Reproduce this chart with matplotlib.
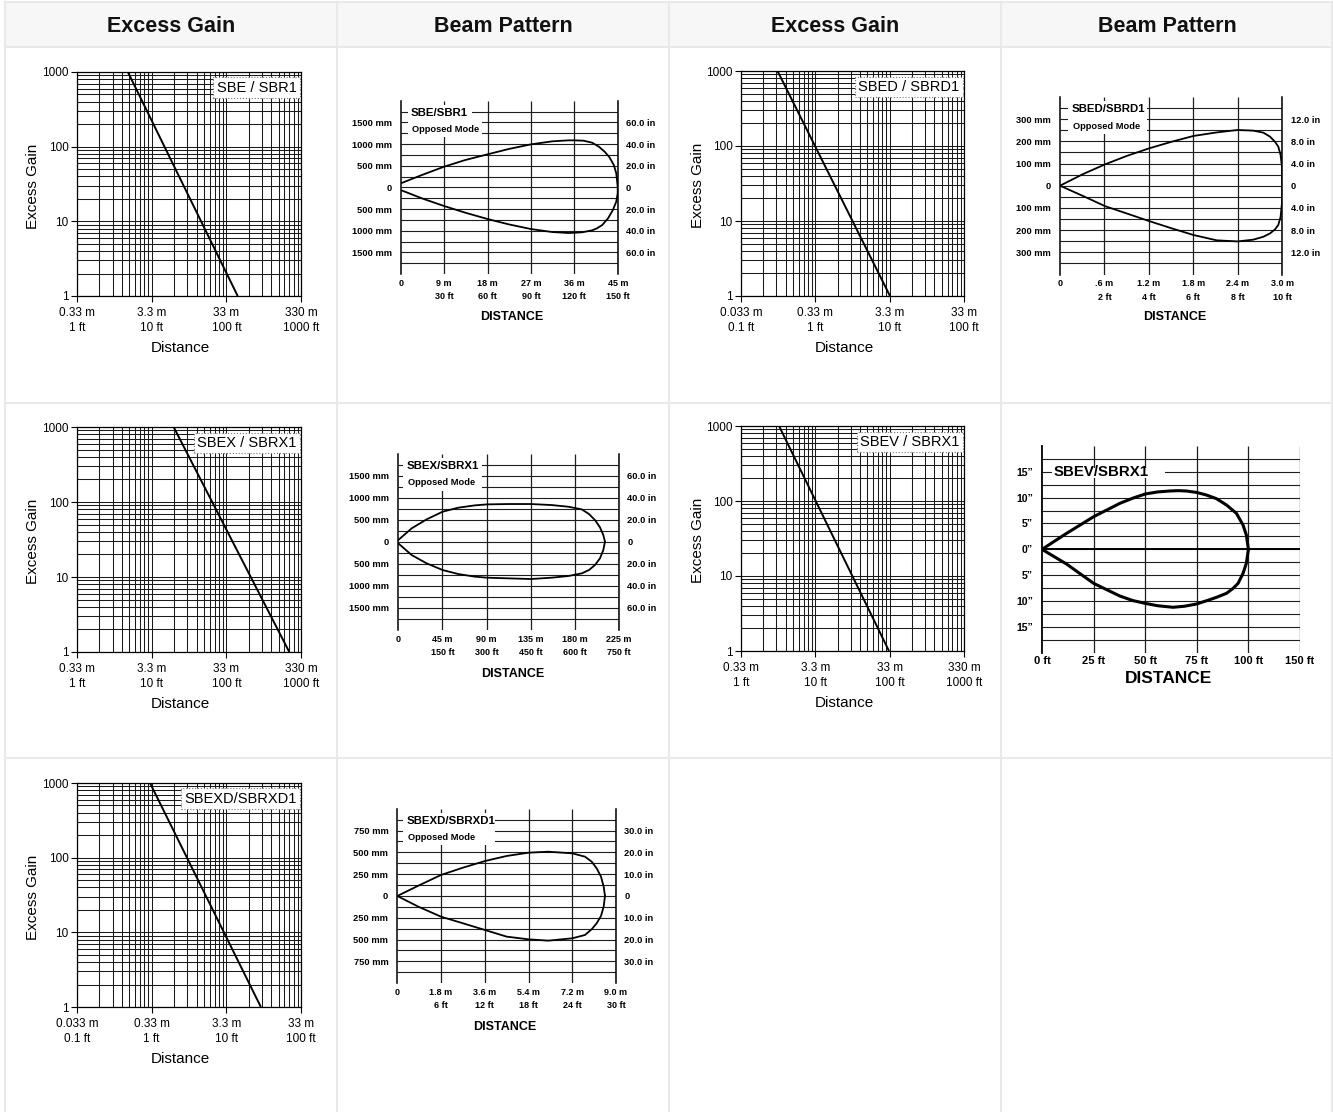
import numpy as np
import matplotlib
matplotlib.use('Agg')
import matplotlib.pyplot as plt
from matplotlib.patches import Rectangle
from matplotlib.lines import Line2D
from matplotlib.ticker import LogLocator, NullFormatter

# ---------------- data ----------------
headers = ['Excess Gain', 'Beam Pattern', 'Excess Gain', 'Beam Pattern']

# Excess gain lines (distance in ft, excess gain)
eg_sbe_dist = [4.8, 142]
eg_sbe_gain = [1000, 1]
eg_sbed_dist = [0.31, 10.1]
eg_sbed_gain = [1000, 1]
eg_sbex_dist = [19.7, 697]
eg_sbex_gain = [1000, 1]
eg_sbev_dist = [3.25, 98]
eg_sbev_gain = [1000, 1]
eg_sbexd_dist = [0.95, 29]
eg_sbexd_gain = [1000, 1]

eg_ticks_long = [1, 10, 100, 1000]
eg_labels_long = ['0.33 m\n1 ft', '3.3 m\n10 ft', '33 m\n100 ft', '330 m\n1000 ft']
eg_ticks_short = [0.1, 1, 10, 100]
eg_labels_short = ['0.033 m\n0.1 ft', '0.33 m\n1 ft', '3.3 m\n10 ft', '33 m\n100 ft']
gain_ticks = [1, 10, 100, 1000]
gain_labels = ['1', '10', '100', '1000']

# Beam pattern SBE/SBR1 (m, mm)
bp_sbe_up_x = [0, 4.4, 9, 13.4, 18, 22.4, 27, 31.4, 34.8, 36, 37.9, 39.7, 41.1, 42.3, 43.3, 44.2, 44.7, 45]
bp_sbe_up_y = [92, 285, 477, 631, 762, 885, 992, 1062, 1085, 1085, 1077, 1031, 938, 823, 692, 515, 323, 15]
bp_sbe_lo_x = [45, 45, 44.7, 44.0, 43.0, 41.8, 40.7, 39.7, 37.6, 34.8, 31.4, 27, 22.4, 18, 13.4, 9, 4.4, 0]
bp_sbe_lo_y = [15, -138, -331, -523, -715, -869, -946, -992, -1038, -1054, -1031, -962, -854, -731, -585, -431, -254, -62]
bp_sbe_xticks = [0, 9, 18, 27, 36, 45]
bp_sbe_xlabels = ['0', '9 m\n30 ft', '18 m\n60 ft', '27 m\n90 ft', '36 m\n120 ft', '45 m\n150 ft']
bp_sbe_yticks = [1500, 1000, 500, 0, -500, -1000, -1500]
bp_sbe_ylabels = ['1500 mm', '1000 mm', '500 mm', '0', '500 mm', '1000 mm', '1500 mm']
bp_sbe_rlabels = ['60.0 in', '40.0 in', '20.0 in', '0', '20.0 in', '40.0 in', '60.0 in']

# Beam pattern SBED/SBRD1 (m, mm)
bp_sbed_up_x = [0, 0.315, 0.607, 0.9, 1.2, 1.507, 1.8, 2.114, 2.397, 2.609, 2.744, 2.834, 2.901, 2.946, 2.977, 2.995, 3.0]
bp_sbed_up_y = [0, 53, 96, 134, 168, 198, 224, 240, 251, 248, 239, 221, 198, 176, 138, 86, 0]
bp_sbed_lo_x = [3.0, 2.995, 2.977, 2.946, 2.901, 2.834, 2.744, 2.609, 2.397, 2.114, 1.8, 1.507, 1.2, 0.9, 0.607, 0.315, 0]
bp_sbed_lo_y = [0, -80, -140, -177, -197, -215, -230, -243, -251, -246, -222, -192, -159, -125, -92, -47, 0]
bp_sbed_xticks = [0, 0.6, 1.2, 1.8, 2.4, 3.0]
bp_sbed_xlabels = ['0', '.6 m\n2 ft', '1.2 m\n4 ft', '1.8 m\n6 ft', '2.4 m\n8 ft', '3.0 m\n10 ft']
bp_sbed_yticks = [300, 200, 100, 0, -100, -200, -300]
bp_sbed_ylabels = ['300 mm', '200 mm', '100 mm', '0', '100 mm', '200 mm', '300 mm']
bp_sbed_rlabels = ['12.0 in', '8.0 in', '4.0 in', '0', '4.0 in', '8.0 in', '12.0 in']

# Beam pattern SBEX/SBRX1 (m, mm)
bp_sbex_up_x = [0, 13.6, 28.9, 45.2, 61.2, 78.2, 90.4, 112.2, 135.3, 156.3, 173.3, 187, 194.4, 200.5, 205.6, 209, 210.7]
bp_sbex_up_y = [38, 303, 508, 682, 773, 826, 848, 856, 856, 833, 795, 735, 629, 492, 326, 152, 0]
bp_sbex_lo_x = [210.7, 209, 205.6, 200.5, 194.4, 187, 173.3, 156.3, 135.3, 112.2, 90.4, 78.2, 61.2, 45.2, 28.9, 13.6, 0]
bp_sbex_lo_y = [0, -189, -379, -530, -644, -720, -780, -818, -848, -833, -818, -795, -735, -644, -492, -303, -38]
bp_sbex_xticks = [0, 45, 90, 135, 180, 225]
bp_sbex_xlabels = ['0', '45 m\n150 ft', '90 m\n300 ft', '135 m\n450 ft', '180 m\n600 ft', '225 m\n750 ft']
bp_sbex_yticks = bp_sbe_yticks
bp_sbex_ylabels = bp_sbe_ylabels
bp_sbex_rlabels = bp_sbe_rlabels

# Beam pattern SBEXD/SBRXD1 (m, mm)
bp_sbexd_up_x = [0, 0.864, 1.797, 2.703, 3.608, 4.5, 5.405, 6.215, 7.203, 7.724, 7.998, 8.204, 8.383, 8.492, 8.547]
bp_sbexd_up_y = [0, 118, 241, 325, 401, 459, 497, 508, 489, 451, 394, 317, 222, 107, 0]
bp_sbexd_lo_x = [8.547, 8.492, 8.383, 8.204, 7.998, 7.724, 7.203, 6.215, 5.405, 4.5, 3.608, 2.703, 1.797, 0.864, 0]
bp_sbexd_lo_y = [0, -122, -229, -313, -382, -447, -485, -512, -497, -466, -390, -313, -237, -122, 0]
bp_sbexd_xticks = [0, 1.8, 3.6, 5.4, 7.2, 9.0]
bp_sbexd_xlabels = ['0', '1.8 m\n6 ft', '3.6 m\n12 ft', '5.4 m\n18 ft', '7.2 m\n24 ft', '9.0 m\n30 ft']
bp_sbexd_yticks = [750, 500, 250, 0, -250, -500, -750]
bp_sbexd_ylabels = ['750 mm', '500 mm', '250 mm', '0', '250 mm', '500 mm', '750 mm']
bp_sbexd_rlabels = ['30.0 in', '20.0 in', '10.0 in', '0', '10.0 in', '20.0 in', '30.0 in']

# Beam pattern SBEV/SBRX1 (ft, inches)
bp_sbev_up_x = [0, 11.9, 25, 37.7, 44, 50, 56, 61.9, 66, 70, 75, 79.7, 84.5, 89.4, 94.2, 97.4, 99, 100]
bp_sbev_up_y = [0, 3.09, 6.31, 8.89, 9.9, 10.7, 11.1, 11.28, 11.35, 11.28, 11.0, 10.5, 9.8, 8.57, 6.96, 4.7, 2.77, 0]
bp_sbev_lo_x = [100, 99, 97.4, 95, 92.6, 89.4, 84.5, 80, 74.8, 69, 63.5, 56, 50, 44, 37.7, 25, 11.9, 0]
bp_sbev_lo_y = [0, -2.7, -4.64, -6.57, -7.54, -8.5, -9.28, -9.9, -10.57, -11.0, -11.2, -10.9, -10.44, -9.9, -9.02, -6.57, -2.84, 0]
bp_sbev_xticks = [0, 25, 50, 75, 100, 125]
bp_sbev_xlabels = ['0 ft', '25 ft', '50 ft', '75 ft', '100 ft', '150 ft']
bp_sbev_yticks = [15, 10, 5, 0, -5, -10, -15]
bp_sbev_ylabels = ['15\u201d', '10\u201d', '5\u201d', '0\u201d', '5\u201d', '10\u201d', '15\u201d']

# ---------------- figure ----------------
W, H = 1333, 1112
fig = plt.figure(figsize=(W / 100, H / 100), dpi=100)
fig.patch.set_facecolor('white')

SANS = ['Liberation Sans', 'DejaVu Sans']
NARROW = ['Liberation Sans', 'DejaVu Sans']


def fx(x):
    return x / W


def fy(y):
    return 1 - y / H


def ax_px(l, t, r, b):
    return fig.add_axes([l / W, 1 - b / H, (r - l) / W, (b - t) / H])


# table background and borders
fig.add_artist(Rectangle((fx(5), fy(47)), (1333 - 5) / W, (47 - 2) / H, transform=fig.transFigure,
                         facecolor='#f7f7f7', edgecolor='none', zorder=0))
border = '#e9e9e9'
for xb in [5, 337, 669, 1001, 1332]:
    fig.add_artist(Line2D([fx(xb), fx(xb)], [fy(2), fy(1112)], transform=fig.transFigure,
                          color=border, lw=1.5, zorder=0))
for yb in [2, 47, 403, 758]:
    fig.add_artist(Line2D([fx(5), fx(1333)], [fy(yb), fy(yb)], transform=fig.transFigure,
                          color=border, lw=1.5, zorder=0))
for i, h in enumerate(headers):
    cx = (5 + 332 * i + 5 + 332 * (i + 1)) / 2
    fig.text(fx(cx), fy(26.5), h, ha='center', va='center', fontsize=15.5,
             fontweight='bold', family=SANS, color='#111111')


def excess_gain(box, xmin, xticks, xlabels, dist, gain, name):
    ax = ax_px(*box)
    ax.set_xscale('log')
    ax.set_yscale('log')
    ax.set_xlim(xmin, xmin * 1000)
    ax.set_ylim(1, 1000)
    ax.xaxis.set_minor_locator(LogLocator(base=10, subs=np.arange(2, 10), numticks=12))
    ax.yaxis.set_minor_locator(LogLocator(base=10, subs=np.arange(2, 10), numticks=12))
    ax.xaxis.set_minor_formatter(NullFormatter())
    ax.yaxis.set_minor_formatter(NullFormatter())
    ax.set_xticks(xticks, xlabels)
    ax.set_yticks(gain_ticks, gain_labels)
    ax.grid(True, which='both', color='#1a1a1a', lw=0.75, zorder=1)
    ax.set_axisbelow(True)
    ax.plot(dist, gain, color='black', lw=1.4, zorder=4, solid_capstyle='butt')
    ax.tick_params(which='minor', length=0)
    ax.tick_params(which='major', length=4, width=0.8, color='black')
    ax.tick_params(axis='x', labelsize=8.5, pad=4)
    ax.tick_params(axis='y', labelsize=8.5, pad=2)
    for t in ax.get_xticklabels() + ax.get_yticklabels():
        t.set_family(SANS)
    for t in ax.get_xticklabels():
        t.set_linespacing(1.3)
    for s in ax.spines.values():
        s.set_color('black')
        s.set_linewidth(0.9)
    ax.set_xlabel('Distance', fontsize=11, family=SANS, va='center')
    ax.xaxis.set_label_coords(0.463, -0.232)
    ax.set_ylabel('Excess Gain', fontsize=11, family=SANS, va='center')
    ax.yaxis.set_label_coords(-0.195, 0.49)
    ax.text(0.98, 0.93, name, transform=ax.transAxes, ha='right', va='center', fontsize=10.5,
            family=SANS, zorder=6,
            bbox=dict(boxstyle='square,pad=0.22', facecolor='white', edgecolor='#777777',
                      linestyle=':', linewidth=0.8))
    return ax


def beam(box, xmax, nx, ymax, ygrid, ny, xticks, xlabels, yticks, ylabels, rlabels,
         ux, uy, lx, ly, title, subtitle, boxspec, xlab_x, xlab_y, big=False):
    ax = ax_px(*box)
    ax.set_xlim(0, xmax)
    ax.set_ylim(-ymax, ymax)
    ax.patch.set_alpha(0)
    gc = '#1e1e1e'
    ax.hlines(np.linspace(-ygrid, ygrid, ny), 0, xmax, color=gc, lw=0.8, zorder=1)
    ax.vlines(np.linspace(0, xmax, nx + 1)[1:], -ymax, ymax, color=gc, lw=0.9, zorder=1)
    if big:
        ax.hlines([0], 0, xmax, color='black', lw=1.4, zorder=1)
    for side in ['top', 'bottom', 'right']:
        ax.spines[side].set_visible(False)
    ax.spines['left'].set_color('black')
    ax.spines['left'].set_linewidth(1.3 if big else 1.1)
    lw = 2.2 if big else 1.3
    ax.plot(ux, uy, color='black', lw=lw, zorder=4, solid_joinstyle='round', solid_capstyle='round')
    ax.plot(lx, ly, color='black', lw=lw, zorder=4, solid_joinstyle='round', solid_capstyle='round')
    ax.set_xticks(xticks, xlabels)
    ax.set_yticks(yticks, ylabels)
    ax.tick_params(length=0)
    ax.tick_params(axis='x', pad=2 if big else 3.5, labelsize=8 if big else 6.5)
    ax.tick_params(axis='y', pad=6.5, labelsize=7.6 if big else 6.7)
    for t in ax.get_xticklabels() + ax.get_yticklabels():
        t.set_family(NARROW)
        t.set_fontweight('bold')
    for t in ax.get_xticklabels():
        t.set_linespacing(1.6)
    if rlabels is not None:
        ax2 = ax.twinx()
        ax2.set_ylim(-ymax, ymax)
        ax2.set_yticks(yticks, rlabels)
        ax2.tick_params(length=0, labelsize=6.7, pad=6)
        for s in ax2.spines.values():
            s.set_visible(False)
        ax2.spines['right'].set_visible(True)
        ax2.spines['right'].set_color('black')
        ax2.spines['right'].set_linewidth(1.1)
        for t in ax2.get_yticklabels():
            t.set_family(NARROW)
            t.set_fontweight('bold')
    ax.set_xlabel('DISTANCE', fontsize=12.5 if big else 9, fontweight='bold', family=NARROW, va='center')
    ax.xaxis.set_label_coords(xlab_x, xlab_y)
    # white label box
    x0, wtop, wbot, ybot, ymid, ytop = boxspec
    ax.add_patch(Rectangle((x0, ybot), wtop - x0, ytop - ybot, transform=ax.transAxes,
                           facecolor='white', edgecolor='none', zorder=2))
    ax.add_patch(Rectangle((x0, ybot), wbot - x0, ymid - ybot, transform=ax.transAxes,
                           facecolor='white', edgecolor='none', zorder=2))
    if big:
        ax.text(0.044, 0.875, title, transform=ax.transAxes, ha='left', va='center',
                fontsize=10.8, fontweight='bold', family=NARROW, zorder=5)
    else:
        ax.text(x0 + 0.015, 0.93, title, transform=ax.transAxes, ha='left', va='center',
                fontsize=8.2, fontweight='bold', family=NARROW, zorder=5)
        ax.text(x0 + 0.02, 0.836, subtitle, transform=ax.transAxes, ha='left', va='center',
                fontsize=6.7, fontweight='bold', family=NARROW, zorder=5)
    return ax


excess_gain((77, 72, 301, 296), 1, eg_ticks_long, eg_labels_long, eg_sbe_dist, eg_sbe_gain, 'SBE / SBR1')
excess_gain((741, 71, 964, 296), 0.1, eg_ticks_short, eg_labels_short, eg_sbed_dist, eg_sbed_gain, 'SBED / SBRD1')
excess_gain((77, 427, 301, 652), 1, eg_ticks_long, eg_labels_long, eg_sbex_dist, eg_sbex_gain, 'SBEX / SBRX1')
excess_gain((741, 426, 964, 651), 1, eg_ticks_long, eg_labels_long, eg_sbev_dist, eg_sbev_gain, 'SBEV / SBRX1')
excess_gain((77, 783, 301, 1007), 0.1, eg_ticks_short, eg_labels_short, eg_sbexd_dist, eg_sbexd_gain, 'SBEXD/SBRXD1')

beam((400.7, 100.7, 617.7, 274), 45, 5, 2000, 1750, 15, bp_sbe_xticks, bp_sbe_xlabels,
     bp_sbe_yticks, bp_sbe_ylabels, bp_sbe_rlabels, bp_sbe_up_x, bp_sbe_up_y, bp_sbe_lo_x, bp_sbe_lo_y,
     'SBE/SBR1', 'Opposed Mode', (0.032, 0.328, 0.375, 0.79, 0.905, 0.975), 0.514, -0.25)
beam((1060, 96.9, 1282.3, 274.5), 3.0, 5, 400, 350, 15, bp_sbed_xticks, bp_sbed_xlabels,
     bp_sbed_yticks, bp_sbed_ylabels, bp_sbed_rlabels, bp_sbed_up_x, bp_sbed_up_y, bp_sbed_lo_x, bp_sbed_lo_y,
     'SBED/SBRD1', 'Opposed Mode', (0.037, 0.39, 0.375, 0.79, 0.905, 0.975), 0.514, -0.24)
beam((398.3, 453.7, 619, 629.7), 225, 5, 2000, 1750, 15, bp_sbex_xticks, bp_sbex_xlabels,
     bp_sbex_yticks, bp_sbex_ylabels, bp_sbex_rlabels, bp_sbex_up_x, bp_sbex_up_y, bp_sbex_lo_x, bp_sbex_lo_y,
     'SBEX/SBRX1', 'Opposed Mode', (0.023, 0.378, 0.378, 0.79, 0.905, 0.975), 0.518, -0.25)
beam((397.3, 808.8, 616, 983.2), 9.0, 5, 1000, 875, 15, bp_sbexd_xticks, bp_sbexd_xlabels,
     bp_sbexd_yticks, bp_sbexd_ylabels, bp_sbexd_rlabels, bp_sbexd_up_x, bp_sbexd_up_y, bp_sbexd_lo_x, bp_sbexd_lo_y,
     'SBEXD/SBRXD1', 'Opposed Mode', (0.027, 0.447, 0.386, 0.79, 0.905, 0.975), 0.492, -0.25)
beam((1042, 445.9, 1300, 652.8), 125, 5, 20, 17.5, 15, bp_sbev_xticks, bp_sbev_xlabels,
     bp_sbev_yticks, bp_sbev_ylabels, None, bp_sbev_up_x, bp_sbev_up_y, bp_sbev_lo_x, bp_sbev_lo_y,
     'SBEV/SBRX1', '', (0.037, 0.477, 0.477, 0.843, 0.86, 0.893), 0.49, -0.124, big=True)

fig.savefig('out.png', dpi=100, facecolor='white')
